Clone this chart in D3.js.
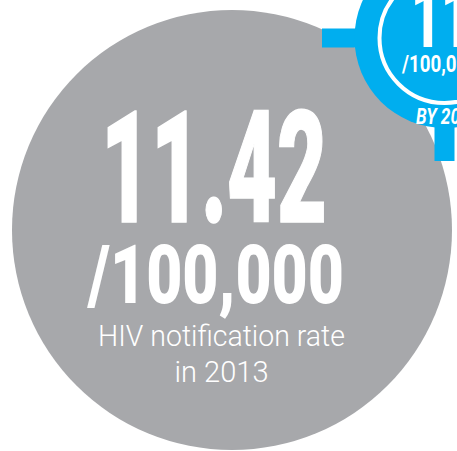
<!DOCTYPE html>
<html>
<head>
<meta charset="utf-8">
<script src="https://cdn.jsdelivr.net/npm/d3@7"></script>
<style>
  body { margin: 0; background: #fff; }
  svg { display: block; }
</style>
</head>
<body>
<svg id="svg" width="457" height="451"></svg>
<script>
// values
var rates = [11.42];
var rateUnit = ["/100,000"];
var captionLines = ["HIV notification rate", "in 2013"];
var targetLabel = ["11"];
var targetUnit = ["/100,000"];
var targetYear = ["BY 20"];

var svg = d3.select("#svg"),
    width = +svg.attr("width"),
    height = +svg.attr("height");

var grey = "#a7a8ab",
    blue = "#00aeef";

var condensed = "'Roboto', 'Liberation Sans', sans-serif",
    light = "'Roboto', 'Lato', 'Liberation Sans', sans-serif";

// big grey disc
var main = svg.append("g");
main.append("circle")
    .attr("cx", 232).attr("cy", 230).attr("r", 220)
    .attr("fill", grey);

main.selectAll("text.rate")
    .data(rates)
    .enter().append("text")
    .attr("class", "rate")
    .attr("x", 101).attr("y", 222)
    .attr("font-family", condensed)
    .attr("font-weight", 900)
    .attr("font-size", 156)
    .attr("textLength", 226)
    .attr("lengthAdjust", "spacingAndGlyphs")
    .attr("fill", "#fff")
    .attr("stroke", "#fff").attr("stroke-width", 1.5)
    .text(d3.format(".2f"));

main.selectAll("text.unit")
    .data(rateUnit)
    .enter().append("text")
    .attr("class", "unit")
    .attr("x", 88).attr("y", 303)
    .attr("font-family", condensed)
    .attr("font-weight", 900)
    .attr("font-size", 81)
    .attr("textLength", 256)
    .attr("lengthAdjust", "spacingAndGlyphs")
    .attr("fill", "#fff")
    .text(function (d) { return d; });

main.selectAll("text.caption")
    .data(captionLines)
    .enter().append("text")
    .attr("class", "caption")
    .attr("x", 221.5)
    .attr("y", function (d, i) { return 346 + i * 36; })
    .attr("text-anchor", "middle")
    .attr("font-family", light)
    .attr("font-weight", 300)
    .attr("font-size", 29)
    .attr("textLength", function (d, i) { return i == 0 ? 247 : 94; })
    .attr("lengthAdjust", "spacingAndGlyphs")
    .attr("fill", "#fff")
    .text(function (d) { return d; });

// blue target badge, top right
var bx = 444.5, by = 38;
var badge = svg.append("g");

badge.append("rect")
    .attr("x", 322).attr("y", by - 9.5)
    .attr("width", bx - 322).attr("height", 19)
    .attr("fill", blue);
badge.append("rect")
    .attr("x", bx - 10).attr("y", by)
    .attr("width", 20).attr("height", 161 - by)
    .attr("fill", blue);
badge.append("circle")
    .attr("cx", bx).attr("cy", by).attr("r", 90)
    .attr("fill", blue);
badge.append("circle")
    .attr("cx", bx).attr("cy", by).attr("r", 65)
    .attr("fill", "none")
    .attr("stroke", "#fff")
    .attr("stroke-width", 4);

badge.selectAll("text.tval")
    .data(targetLabel)
    .enter().append("text")
    .attr("class", "tval")
    .attr("x", 411).attr("y", 47)
    .attr("font-family", condensed)
    .attr("font-weight", 900)
    .attr("font-size", 87)
    .attr("textLength", 60)
    .attr("lengthAdjust", "spacingAndGlyphs")
    .attr("fill", "#fff")
    .text(function (d) { return d; });

badge.selectAll("text.tunit")
    .data(targetUnit)
    .enter().append("text")
    .attr("class", "tunit")
    .attr("x", 402).attr("y", 72)
    .attr("font-family", condensed)
    .attr("font-weight", 700)
    .attr("font-size", 24)
    .attr("textLength", 76)
    .attr("lengthAdjust", "spacingAndGlyphs")
    .attr("fill", "#fff")
    .text(function (d) { return d; });

badge.selectAll("text.tyear")
    .data(targetYear)
    .enter().append("text")
    .attr("class", "tyear")
    .attr("x", 416).attr("y", 124)
    .attr("font-family", condensed)
    .attr("font-weight", 700)
    .attr("font-style", "italic")
    .attr("font-size", 22)
    .attr("textLength", 44)
    .attr("lengthAdjust", "spacingAndGlyphs")
    .attr("fill", "#fff")
    .text(function (d) { return d; });
</script>
</body>
</html>
